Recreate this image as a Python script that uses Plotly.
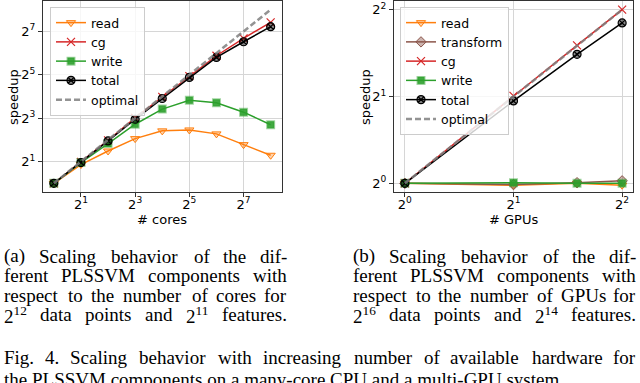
import math
import plotly.graph_objects as go

# ---- data (speedup vs. hardware) ----
cores = [1, 2, 4, 8, 16, 32, 64, 128, 256]
cpu_read = [1.0, 1.82, 2.81, 4.17, 5.34, 5.5, 4.85, 3.44, 2.45]
cpu_cg = [1.0, 1.98, 3.95, 8.1, 15.8, 30.7, 58.8, 102.5, 171.0]
cpu_write = [1.0, 1.94, 3.56, 6.6, 10.7, 14.2, 13.1, 9.7, 6.5]
cpu_total = [1.0, 1.94, 3.87, 7.74, 15.0, 29.4, 55.7, 91.9, 149.0]
cpu_optimal = [1, 2, 4, 8, 16, 32, 64, 128, 256]

gpus = [1, 2, 3, 4]
gpu_read = [1.0, 0.985, 1.0, 0.985]
gpu_transform = [1.0, 0.99, 1.005, 1.02]
gpu_cg = [1.0, 2.01, 3.01, 4.0]
gpu_write = [1.0, 1.005, 1.0, 1.0]
gpu_total = [1.0, 1.93, 2.8, 3.6]
gpu_optimal = [1, 2, 3, 4]

cpu_xticks = [2, 8, 32, 128]
cpu_yticks = [2, 8, 32, 128]
gpu_ticks = [1, 2, 4]

cap_a = ["(a) Scaling behavior of the dif-",
         "ferent PLSSVM components with",
         "respect to the number of cores for",
         "2<sup>12</sup> data points and 2<sup>11</sup> features."]
cap_b = ["(b) Scaling behavior of the dif-",
         "ferent PLSSVM components with",
         "respect to the number of GPUs for",
         "2<sup>16</sup> data points and 2<sup>14</sup> features."]
cap_fig = ["Fig. 4.  Scaling behavior with increasing number of available hardware for",
           "the PLSSVM components on a many-core CPU and a multi-GPU system."]

W, H = 640, 383
L2 = math.log10(2)


def px(x):
    return x / W


def py(y):
    return 1 - y / H


def sup(n):
    return f"2<sup>{int(round(math.log2(n)))}</sup>"


fig = go.Figure()

# styles for each component
styles = {
    "read": dict(color="#ff7f0e", marker=dict(symbol="triangle-down", size=8, color="rgba(255,127,14,0.35)",
                                              line=dict(color="#ff7f0e", width=1))),
    "transform": dict(color="#8c564b", marker=dict(symbol="diamond", size=8, color="rgba(140,86,75,0.45)",
                                                   line=dict(color="#8c564b", width=1))),
    "cg": dict(color="#d62728", marker=dict(symbol="x-thin", size=8, color="#d62728",
                                            line=dict(color="#d62728", width=1.2))),
    "write": dict(color="#2ca02c", marker=dict(symbol="square", size=7, color="rgba(44,160,44,0.9)",
                                               line=dict(color="rgba(44,160,44,0.45)", width=2))),
    "total": dict(color="#000000", marker=dict(symbol="circle-x", size=8, color="rgba(0,0,0,0.45)",
                                               line=dict(color="#000000", width=1.2))),
}

left = [("read", cpu_read), ("cg", cpu_cg), ("write", cpu_write), ("total", cpu_total)]
for name, ys in left:
    s = styles[name]
    fig.add_trace(go.Scatter(x=cores, y=ys, name=name, mode="lines+markers",
                             line=dict(color=s["color"], width=1.5), marker=s["marker"],
                             xaxis="x", yaxis="y", legend="legend"))
fig.add_trace(go.Scatter(x=cores, y=cpu_optimal, name="optimal", mode="lines",
                         line=dict(color="rgba(128,128,128,0.85)", width=2.5, dash="6px,3px"),
                         xaxis="x", yaxis="y", legend="legend"))

right = [("read", gpu_read), ("transform", gpu_transform), ("cg", gpu_cg),
         ("write", gpu_write), ("total", gpu_total)]
for name, ys in right:
    s = styles[name]
    fig.add_trace(go.Scatter(x=gpus, y=ys, name=name, mode="lines+markers",
                             line=dict(color=s["color"], width=1.5), marker=s["marker"],
                             xaxis="x2", yaxis="y2", legend="legend2"))
fig.add_trace(go.Scatter(x=gpus, y=gpu_optimal, name="optimal", mode="lines",
                         line=dict(color="rgba(128,128,128,0.85)", width=2.5, dash="6px,3px"),
                         xaxis="x2", yaxis="y2", legend="legend2"))

tickfont = dict(family="DejaVu Sans", size=13, color="black")
axis_common = dict(type="log", showline=True, mirror=True, linecolor="#333333", linewidth=1,
                   ticks="outside", ticklen=4, tickcolor="#333333", showgrid=True,
                   gridcolor="#d6d6d6", gridwidth=1, zeroline=False, tickfont=tickfont)
legend_common = dict(yanchor="top", xanchor="left", bgcolor="rgba(255,255,255,0.8)",
                     bordercolor="#cccccc", borderwidth=1, tracegroupgap=0,
                     font=dict(family="DejaVu Sans", size=12.5, color="black"))

fig.update_layout(
    width=W, height=H, margin=dict(l=0, r=0, t=0, b=0),
    paper_bgcolor="white", plot_bgcolor="white",
    xaxis=dict(axis_common, domain=[px(43), px(281.5)], range=[-0.4 * L2, 8.4 * L2], anchor="y",
               tickvals=cpu_xticks, ticktext=[sup(v) for v in cpu_xticks], ticklabelstandoff=-4),
    yaxis=dict(axis_common, domain=[py(192), py(1)], range=[-0.4 * L2, 8.4 * L2], anchor="x",
               tickvals=cpu_yticks, ticktext=[sup(v) for v in cpu_yticks]),
    xaxis2=dict(axis_common, domain=[px(394), px(633)], range=[-0.1 * L2, 2.1 * L2], anchor="y2",
                tickvals=gpu_ticks, ticktext=[sup(v) for v in gpu_ticks], ticklabelstandoff=-4),
    yaxis2=dict(axis_common, domain=[py(192), py(1)], range=[-0.1 * L2, 2.1 * L2], anchor="x2",
                tickvals=gpu_ticks, ticktext=[sup(v) for v in gpu_ticks]),
    legend=dict(legend_common, x=px(50), y=py(7)),
    legend2=dict(legend_common, x=px(400), y=py(7)),
    showlegend=True,
)

axis_titles = [("# cores", 162, 219, 0), ("speedup", 13, 97, -90),
               ("# GPUs", 513, 219, 0), ("speedup", 365, 97, -90)]
for text, x, y, ang in axis_titles:
    fig.add_annotation(text=text, x=px(x), y=py(y), xref="paper", yref="paper", showarrow=False,
                       textangle=ang, xanchor="center", yanchor="middle",
                       font=dict(family="DejaVu Sans", size=13, color="black"))

# ---- captions (justified word by word, Times metrics) ----
TIMES = {" ": 250, "(": 333, ")": 333, "-": 333, ".": 250, ",": 250,
         "a": 444, "b": 500, "c": 444, "d": 500, "e": 444, "f": 333, "g": 500, "h": 500,
         "i": 278, "j": 278, "k": 500, "l": 278, "m": 778, "n": 500, "o": 500, "p": 500,
         "q": 500, "r": 333, "s": 389, "t": 278, "u": 500, "v": 500, "w": 722, "x": 500,
         "y": 500, "z": 444, "A": 722, "C": 667, "F": 556, "G": 722, "L": 611, "M": 889,
         "P": 556, "S": 556, "U": 722, "V": 722}
CAP_FS = 19
CAP_FONT = dict(family="Liberation Serif", size=CAP_FS, color="black")


def word_width(w, fs):
    width, scale, i = 0.0, 1.0, 0
    while i < len(w):
        if w.startswith("<sup>", i):
            scale, i = 0.7, i + 5
            continue
        if w.startswith("</sup>", i):
            scale, i = 1.0, i + 6
            continue
        width += TIMES.get(w[i], 500) * scale
        i += 1
    return width * fs / 1000 * 1.04   # small fudge for rendered glyph widths


def put_line(line, x0, x1, y, justify=True):
    if not justify:
        fig.add_annotation(text=line, x=px(x0), y=py(y), xref="paper", yref="paper", showarrow=False,
                           xanchor="left", yanchor="middle", font=CAP_FONT, borderpad=0)
        return
    words = line.split()
    widths = [word_width(w, CAP_FS) for w in words]
    gap = (x1 - x0 - sum(widths)) / (len(words) - 1)
    x = x0
    for k, (w, wd) in enumerate(zip(words, widths)):
        last = k == len(words) - 1
        fig.add_annotation(text=w, x=px(x1 if last else x), y=py(y), xref="paper", yref="paper",
                           showarrow=False, xanchor="right" if last else "left", yanchor="middle",
                           font=CAP_FONT, borderpad=0)
        x += wd + gap


cap_y = [256, 275.5, 295, 314.5]
for i, line in enumerate(cap_a):
    put_line(line, 3, 288, cap_y[i])
for i, line in enumerate(cap_b):
    put_line(line, 352, 637, cap_y[i])
put_line(cap_fig[0], 3, 637, 357)
put_line(cap_fig[1], 3, 637, 379, justify=False)

# the page body has a default 8px margin; drop it so the figure fills the window
fig.write_html("out.html", config={"staticPlot": True},
               post_script="document.body.style.margin='0px';")
